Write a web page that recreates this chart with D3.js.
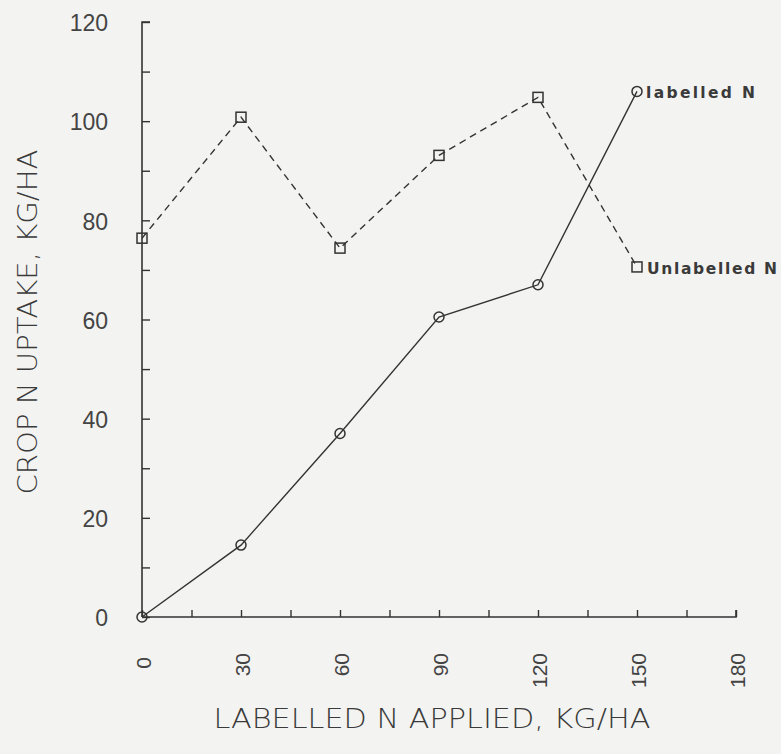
<!DOCTYPE html>
<html><head><meta charset="utf-8">
<script src="https://cdn.jsdelivr.net/npm/d3@7"></script>
<style>
html,body{margin:0;padding:0;background:#f3f3f1;}
svg{display:block;}
text{font-family:"DejaVu Sans",sans-serif;fill:#3a3a3a;}
</style></head>
<body>
<script>
const nApplied = [0, 30, 60, 90, 120, 150];
const labelledN = [0, 14.5, 37, 60.5, 67, 106];
const unlabelledN = [76.4, 100.8, 74.4, 93.1, 104.8, 70.6];
const xTickLabels = [0, 30, 60, 90, 120, 150, 180];
const yTickLabels = [0, 20, 40, 60, 80, 100, 120];
const seriesNames = ["labelled N", "Unlabelled N"];
const xTitle = "LABELLED N APPLIED, KG/HA";
const yTitle = "CROP N UPTAKE, KG/HA";

const W = 781, H = 754;
const svg = d3.select("body").append("svg").attr("width", W).attr("height", H);
const x = d3.scaleLinear().domain([0, 180]).range([142, 736]);
const y = d3.scaleLinear().domain([0, 120]).range([617, 22]);
const ink = "#333";

// y axis
const yAxis = d3.axisRight(y).tickValues(d3.range(0, 121, 10)).tickSize(8).tickFormat("");
const gy = svg.append("g").attr("transform", `translate(${x(0)},0)`).call(yAxis);
gy.select(".domain").attr("stroke", ink).attr("stroke-width", 1.6).attr("d", `M8,${y(120)}H0V${y(0)}`);
gy.selectAll(".tick line").attr("stroke", ink).attr("stroke-width", 1.4);
svg.append("g").selectAll("text").data(yTickLabels).join("text")
  .attr("x", 108).attr("y", d => y(d) + 1).attr("dy", "0.36em")
  .attr("text-anchor", "end").attr("font-size", 23)
  .style("font-family", "'Liberation Sans', sans-serif").style("fill", "#444")
  .text(d => d);

// x axis
const xAxis = d3.axisTop(x).tickValues(d3.range(0, 181, 15)).tickSize(7).tickFormat("");
const gx = svg.append("g").attr("transform", `translate(0,${y(0)})`).call(xAxis);
gx.select(".domain").attr("stroke", ink).attr("stroke-width", 1.6).attr("d", `M${x(0)},0H${x(180)}V-7`);
gx.selectAll(".tick line").attr("stroke", ink).attr("stroke-width", 1.4);
svg.append("g").selectAll("text").data(xTickLabels).join("text")
  .attr("transform", d => `translate(${x(d) + 1},${d === 0 ? 657 : 653}) rotate(-90)`)
  .attr("dy", "0.36em").attr("text-anchor", "end")
  .attr("font-size", 21)
  .style("font-family", "'Liberation Sans', sans-serif").style("fill", "#444")
  .text(d => d);

// titles
svg.append("text").attr("x", 432).attr("y", 728)
  .attr("text-anchor", "middle").attr("font-size", 26).attr("font-weight", 300)
  .attr("textLength", 437).attr("lengthAdjust", "spacingAndGlyphs")
  .text(xTitle);
svg.append("text").attr("transform", "translate(37,322) rotate(-90)")
  .attr("text-anchor", "middle").attr("font-size", 26).attr("font-weight", 300)
  .attr("textLength", 345).attr("lengthAdjust", "spacingAndGlyphs")
  .text(yTitle);

// lines
const line = d3.line().x(d => x(d[0])).y(d => y(d[1]));
const lab = nApplied.map((d, i) => [d, labelledN[i]]);
const unl = nApplied.map((d, i) => [d, unlabelledN[i]]);
svg.append("path").datum(unl).attr("d", line).attr("fill", "none")
  .attr("stroke", ink).attr("stroke-width", 1.4).attr("stroke-dasharray", "7,5");
svg.append("path").datum(lab).attr("d", line).attr("fill", "none")
  .attr("stroke", ink).attr("stroke-width", 1.4);

svg.append("g").selectAll("circle").data(lab).join("circle")
  .attr("cx", d => x(d[0])).attr("cy", d => y(d[1])).attr("r", 5)
  .attr("fill", "none").attr("stroke", ink).attr("stroke-width", 1.5);
svg.append("g").selectAll("rect").data(unl).join("rect")
  .attr("x", d => x(d[0]) - 5).attr("y", d => y(d[1]) - 5).attr("width", 10).attr("height", 10)
  .attr("fill", "none").attr("stroke", ink).attr("stroke-width", 1.5);

// end labels
svg.append("text").attr("x", x(150) + 9).attr("y", y(labelledN[5]) + 1).attr("dy", "0.36em")
  .attr("font-size", 15.5).attr("font-weight", "bold")
  .attr("textLength", 109).attr("lengthAdjust", "spacing")
  .text(seriesNames[0]);
svg.append("text").attr("x", x(150) + 10).attr("y", y(unlabelledN[5]) + 1).attr("dy", "0.36em")
  .attr("font-size", 15.5).attr("font-weight", "bold")
  .attr("textLength", 130).attr("lengthAdjust", "spacing")
  .text(seriesNames[1]);
</script>
</body></html>
